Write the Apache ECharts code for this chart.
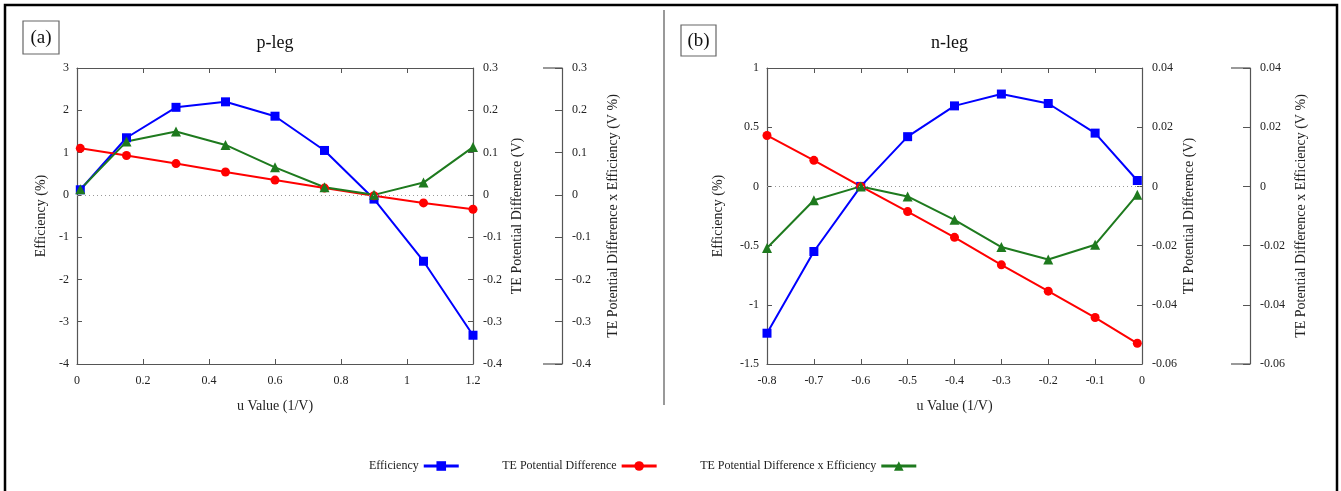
<!DOCTYPE html>
<html>
<head>
<meta charset="utf-8">
<script src="https://cdn.jsdelivr.net/npm/echarts@6/dist/echarts.min.js"></script>
<style>
  html, body { margin: 0; padding: 0; background: #fff; }
  #chart { width: 1341px; height: 491px; }
</style>
</head>
<body>
<div id="chart"></div>
<script>
// p-leg (a)
const pU = [0.01, 0.15, 0.3, 0.45, 0.6, 0.75, 0.9, 1.05, 1.2];
const pEff = [0.12, 1.35, 2.07, 2.2, 1.86, 1.05, -0.1, -1.57, -3.32];
const pTE = [0.11, 0.093, 0.074, 0.054, 0.035, 0.016, -0.002, -0.019, -0.034];
const pTExEff = [0.013, 0.126, 0.15, 0.118, 0.065, 0.018, 0.0, 0.029, 0.113];

// n-leg (b)
const nU = [-0.8, -0.7, -0.6, -0.5, -0.4, -0.3, -0.2, -0.1, -0.01];
const nEff = [-1.24, -0.55, 0.0, 0.42, 0.68, 0.78, 0.70, 0.45, 0.05];
const nTE = [0.0172, 0.0088, 0.0, -0.0085, -0.0172, -0.0265, -0.0354, -0.0443, -0.053];
const nTExEff = [-0.0208, -0.0047, 0.0, -0.0034, -0.0113, -0.0205, -0.0247, -0.0197, -0.0028];

const names = ['Efficiency', 'TE Potential Difference', 'TE Potential Difference x Efficiency'];

const FONT = 'Liberation Serif';
const AXIS_COLOR = '#555';
const LABEL_COLOR = '#222';

// layout constants
const g0 = { left: 77, top: 68, width: 396, height: 296 };
const g1 = { left: 767, top: 68, width: 375, height: 296 };
const off0 = 89, off1 = 108;

const zip = (xs, ys) => xs.map((x, i) => [x, ys[i]]);

function xAxisFor(gridIndex, min, max, interval, top) {
  return {
    type: 'value', gridIndex, min, max, interval,
    position: top ? 'top' : 'bottom',
    name: top ? '' : 'u Value (1/V)',
    nameLocation: 'middle', nameGap: 35,
    nameTextStyle: { fontFamily: FONT, fontSize: 14, color: LABEL_COLOR },
    axisLine: { show: true, onZero: false, lineStyle: { color: AXIS_COLOR, width: 1.2 } },
    axisTick: { show: true, inside: true, length: 5, lineStyle: { color: AXIS_COLOR } },
    axisLabel: { show: !top, fontFamily: FONT, fontSize: 12, color: LABEL_COLOR, margin: 11 },
    splitLine: { show: false }
  };
}

function yAxisFor(gridIndex, min, max, interval, position, offset, name, nameGap, tickLen) {
  return {
    type: 'value', gridIndex, min, max, interval, position, offset,
    name, nameLocation: 'middle', nameGap, nameRotate: 90,
    nameTextStyle: { fontFamily: FONT, fontSize: 14, color: LABEL_COLOR },
    axisLine: { show: true, onZero: false, lineStyle: { color: AXIS_COLOR, width: 1.2 } },
    axisTick: { show: true, inside: true, length: tickLen, lineStyle: { color: AXIS_COLOR } },
    axisLabel: { fontFamily: FONT, fontSize: 12, color: LABEL_COLOR, margin: position === 'left' ? 8 : 10 },
    splitLine: { show: false }
  };
}

function lineSeries(name, data, xAxisIndex, yAxisIndex, color, symbol, extra) {
  return Object.assign({
    name, type: 'line', data, xAxisIndex, yAxisIndex,
    symbol, symbolSize: symbol === 'triangle' ? 10 : 9,
    lineStyle: { color, width: 2 },
    itemStyle: { color },
    animation: false
  }, extra || {});
}

const zeroLine = {
  markLine: {
    silent: true, symbol: 'none', label: { show: false },
    lineStyle: { color: '#999', type: [1, 3], width: 1 },
    data: [{ yAxis: 0 }]
  }
};

const option = {
  backgroundColor: '#fff',
  animation: false,
  grid: [
    Object.assign({ containLabel: false }, g0),
    Object.assign({ containLabel: false }, g1)
  ],
  legend: {
    left: 364, top: 455, align: 'right',
    itemWidth: 35, itemHeight: 12, itemGap: 42,
    lineStyle: { width: 3 },
    textStyle: { fontFamily: FONT, fontSize: 12, color: '#222' },
    data: names
  },
  xAxis: [
    xAxisFor(0, 0, 1.2, 0.2, false),
    xAxisFor(0, 0, 1.2, 0.2, true),
    xAxisFor(1, -0.8, 0, 0.1, false),
    xAxisFor(1, -0.8, 0, 0.1, true)
  ],
  yAxis: [
    yAxisFor(0, -4, 3, 1, 'left', 0, 'Efficiency (%)', 29, 5),
    yAxisFor(0, -0.4, 0.3, 0.1, 'right', 0, 'TE Potential Difference (V)', 37, 5),
    yAxisFor(0, -0.4, 0.3, 0.1, 'right', off0, 'TE Potential Difference x Efficiency (V %)', 44, 7),
    yAxisFor(1, -1.5, 1, 0.5, 'left', 0, 'Efficiency (%)', 42, 5),
    yAxisFor(1, -0.06, 0.04, 0.02, 'right', 0, 'TE Potential Difference (V)', 40, 5),
    yAxisFor(1, -0.06, 0.04, 0.02, 'right', off1, 'TE Potential Difference x Efficiency (V %)', 44, 7)
  ],
  series: [
    lineSeries(names[0], zip(pU, pEff), 0, 0, '#0000ff', 'rect', zeroLine),
    lineSeries(names[1], zip(pU, pTE), 0, 1, '#ff0000', 'circle'),
    lineSeries(names[2], zip(pU, pTExEff), 0, 2, '#1e7a1e', 'triangle'),
    lineSeries(names[0], zip(nU, nEff), 2, 3, '#0000ff', 'rect', zeroLine),
    lineSeries(names[1], zip(nU, nTE), 2, 4, '#ff0000', 'circle'),
    lineSeries(names[2], zip(nU, nTExEff), 2, 5, '#1e7a1e', 'triangle')
  ],
  graphic: [
    // outer frame
    { type: 'rect', shape: { x: 5, y: 5, width: 1332, height: 500 },
      style: { fill: 'none', stroke: '#000', lineWidth: 2.5 }, silent: true },
    // divider
    { type: 'line', shape: { x1: 664, y1: 10, x2: 664, y2: 405 },
      style: { stroke: '#555', lineWidth: 1.2 }, silent: true },
    // panel labels
    { type: 'rect', shape: { x: 23, y: 21, width: 36, height: 33 },
      style: { fill: '#fff', stroke: '#666', lineWidth: 1.2 }, silent: true },
    { type: 'text', x: 41, y: 38, silent: true,
      style: { text: '(a)', font: '19px "Liberation Serif"', fill: '#111', align: 'center', verticalAlign: 'middle' } },
    { type: 'rect', shape: { x: 681, y: 25, width: 35, height: 31 },
      style: { fill: '#fff', stroke: '#666', lineWidth: 1.2 }, silent: true },
    { type: 'text', x: 698.5, y: 41, silent: true,
      style: { text: '(b)', font: '19px "Liberation Serif"', fill: '#111', align: 'center', verticalAlign: 'middle' } },
    // titles
    { type: 'text', x: g0.left + g0.width / 2, y: 43, silent: true,
      style: { text: 'p-leg', font: '18px "Liberation Serif"', fill: '#111', align: 'center', verticalAlign: 'middle' } },
    { type: 'text', x: g1.left + g1.width / 2 - 5, y: 43, silent: true,
      style: { text: 'n-leg', font: '18px "Liberation Serif"', fill: '#111', align: 'center', verticalAlign: 'middle' } },
    // end caps of the offset axes
    { type: 'line', shape: { x1: g0.left + g0.width + off0 - 19, y1: g0.top, x2: g0.left + g0.width + off0, y2: g0.top },
      style: { stroke: AXIS_COLOR, lineWidth: 1.2 }, silent: true },
    { type: 'line', shape: { x1: g0.left + g0.width + off0 - 19, y1: g0.top + g0.height, x2: g0.left + g0.width + off0, y2: g0.top + g0.height },
      style: { stroke: AXIS_COLOR, lineWidth: 1.2 }, silent: true },
    { type: 'line', shape: { x1: g1.left + g1.width + off1 - 19, y1: g1.top, x2: g1.left + g1.width + off1, y2: g1.top },
      style: { stroke: AXIS_COLOR, lineWidth: 1.2 }, silent: true },
    { type: 'line', shape: { x1: g1.left + g1.width + off1 - 19, y1: g1.top + g1.height, x2: g1.left + g1.width + off1, y2: g1.top + g1.height },
      style: { stroke: AXIS_COLOR, lineWidth: 1.2 }, silent: true }
  ]
};

const chart = echarts.init(document.getElementById('chart'), null, { renderer: 'canvas' });
chart.setOption(option);
</script>
</body>
</html>
